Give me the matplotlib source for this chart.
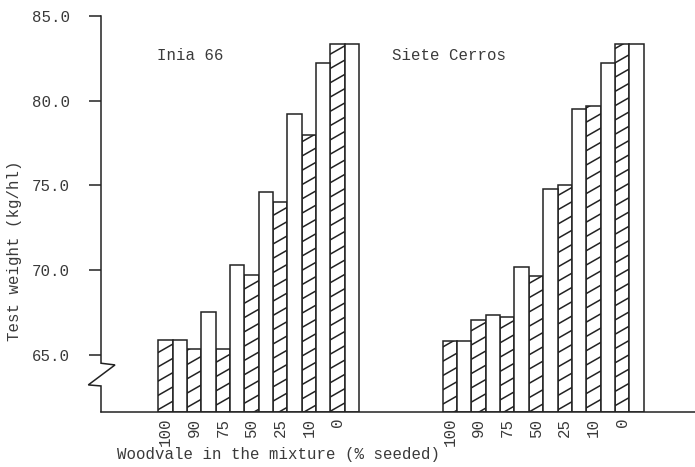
import numpy as np
import matplotlib
matplotlib.use("Agg")
import matplotlib.pyplot as plt
import matplotlib.hatch as mhatch
import matplotlib.transforms as mtransforms
from matplotlib.path import Path

# ---------------- data ----------------
categories = ["100", "90", "75", "50", "25", "10", "0"]
inia_hatched = [65.9, 65.35, 65.35, 69.7, 74.05, 78.0, 83.35]
inia_open = [65.9, 67.55, 70.3, 74.6, 79.2, 82.25, 83.35]
siete_hatched = [65.8, 67.05, 67.25, 69.65, 75.0, 79.7, 83.35]
siete_open = [65.8, 67.35, 70.2, 74.8, 79.5, 82.2, 83.35]
group_names = ["Inia 66", "Siete Cerros"]
yticks = [65.0, 70.0, 75.0, 80.0, 85.0]


# ---------------- shallow "/" hatch (about 30 degrees) ----------------
class ShallowNEHatch(mhatch.HatchPatternBase):
    N = 7   # lines per unit cell (vertical spacing)
    M = 4   # rise per unit cell -> slope M/N

    def __init__(self, hatch, density):
        cnt = hatch.count('/')
        if cnt:
            self.num_lines = self.N + self.M + 1
            self.num_vertices = self.num_lines * 2
        else:
            self.num_lines = 0
            self.num_vertices = 0

    def set_vertices_and_codes(self, vertices, codes):
        c = np.arange(-self.M, self.N + 1) / self.N
        s = self.M / self.N
        vertices[0::2, 0] = 0.0
        vertices[0::2, 1] = c
        vertices[1::2, 0] = 1.0
        vertices[1::2, 1] = c + s
        codes[0::2] = Path.MOVETO
        codes[1::2] = Path.LINETO


for i, t in enumerate(mhatch._hatch_types):
    if t is mhatch.NorthEastHatch:
        mhatch._hatch_types[i] = ShallowNEHatch

plt.rcParams['hatch.linewidth'] = 1.1
plt.rcParams['hatch.color'] = '#222222'
plt.rcParams['font.family'] = ['Liberation Mono', 'DejaVu Sans Mono']

INK = '#222222'
TXT = '#3a3a3a'
FS = 11.3

W, H = 695, 467
fig = plt.figure(figsize=(W / 100, H / 100), dpi=100)
base = 61.65
ax = fig.add_axes([101 / W, 1 - 411.7 / H, 1 - 101 / W, (411.7 - 16) / H])

n = len(categories)
group_starts = [0.0, 19.82]
series = [(inia_hatched, inia_open), (siete_hatched, siete_open)]
tick_pos, tick_lab = [], []
for g0, (hv, ov) in zip(group_starts, series):
    xh = g0 + 2 * np.arange(n)
    xo = xh + 1
    ax.bar(xh, np.array(hv) - base, bottom=base, width=1.0, facecolor='white',
           edgecolor=INK, linewidth=1.1, hatch='/')
    ax.bar(xo, np.array(ov) - base, bottom=base, width=1.0, facecolor='white',
           edgecolor=INK, linewidth=1.1)
    tick_pos.extend(xh)
    tick_lab.extend(categories)

ax.set_xlim(-4.49, 36.9)
ax.set_ylim(base, 85.0)

ax.set_xticks(tick_pos)
ax.set_xticklabels(tick_lab, rotation=90, fontsize=FS, color=TXT)
ax.tick_params(axis='x', length=0, pad=4.5)

ax.set_yticks(yticks)
ax.set_yticklabels([f"{v:.1f}" for v in yticks], fontsize=FS, color=TXT)
ax.tick_params(axis='y', direction='out', length=8.6, width=1.1, color=INK, pad=14)

for s in ['top', 'right', 'left']:
    ax.spines[s].set_visible(False)
ax.spines['bottom'].set_color(INK)
ax.spines['bottom'].set_linewidth(1.1)

# left axis with break symbol
trans = mtransforms.blended_transform_factory(ax.transAxes, ax.transData)
aw = W - 101
bx = [0, 0, 14 / aw, -12.7 / aw, 0, 0]
by = [85.0, 64.51, 64.41, 63.23, 63.17, base]
ax.plot(bx, by, transform=trans, color=INK, lw=1.1, clip_on=False,
        solid_joinstyle='miter')

# group labels
ax.text(-0.59, 82.67, group_names[0], fontsize=FS, color=TXT, va='center', ha='left')
ax.text(15.76, 82.67, group_names[1], fontsize=FS, color=TXT, va='center', ha='left')

fig.text(15 / W, 1 - 251 / H, "Test weight (kg/hl)", rotation=90, fontsize=FS,
         color=TXT, ha='center', va='center')
fig.text(117 / W, 1 - 455 / H, "Woodvale in the mixture (% seeded)", fontsize=FS,
         color=TXT, ha='left', va='center')

fig.savefig("out.png", dpi=100, facecolor='white')
